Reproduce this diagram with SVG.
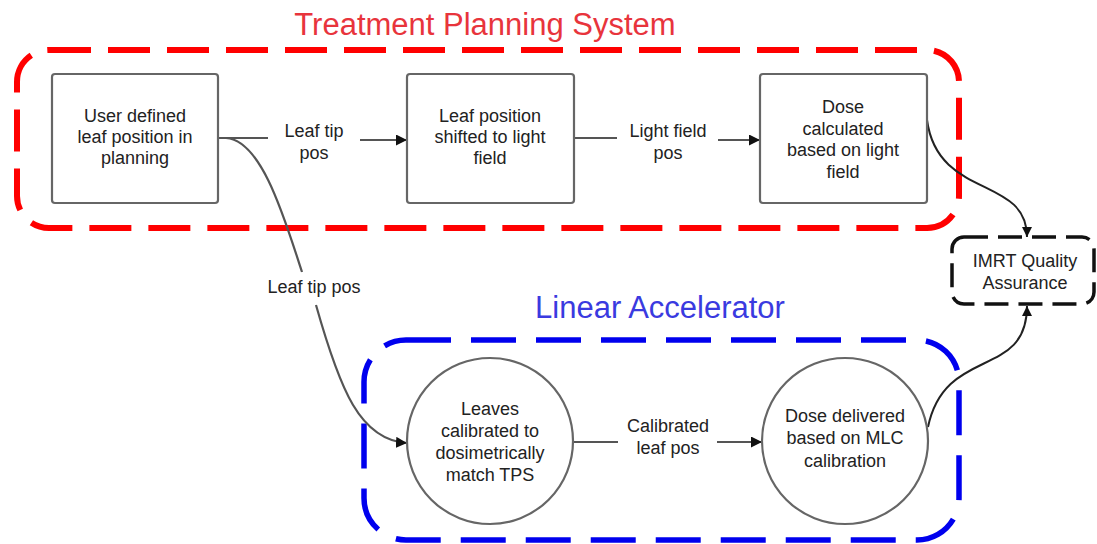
<svg xmlns="http://www.w3.org/2000/svg" width="1097" height="544" viewBox="0 0 1097 544">
<defs>
<marker id="arr" viewBox="0 0 10 10" refX="10" refY="5" markerWidth="5" markerHeight="5" orient="auto" markerUnits="strokeWidth">
<path d="M0,0 L10,5 L0,10 z" fill="#111"/>
</marker>
<style>
.t{font-family:"Liberation Sans",Arial,sans-serif;font-size:18px;fill:#222;text-anchor:middle}
.title{font-family:"Liberation Sans",Arial,sans-serif;font-size:31px;text-anchor:middle}
.box{fill:#fff;stroke:#666;stroke-width:2.2}
.conn{fill:none;stroke:#555;stroke-width:2.2}
.dark{fill:none;stroke:#222;stroke-width:2}
</style>
</defs>
<rect width="1097" height="544" fill="#fff"/>

<g id="tps-group">
<rect x="17" y="50" width="942" height="178" rx="32" fill="none" stroke="#ff0000" stroke-width="6" stroke-dasharray="42 17"/>
<text class="title" x="485" y="35" fill="#e8343c">Treatment Planning System</text>
</g>
<g id="linac-group">
<rect x="364" y="340" width="595" height="200" rx="42" fill="none" stroke="#0000ee" stroke-width="5.5" stroke-dasharray="45 20"/>
<text class="title" x="660" y="318" fill="#3a3ae0">Linear Accelerator</text>
</g>

<g id="connectors">
<path class="conn" d="M218,138 H268"/>
<path class="conn" d="M360,140 H407" marker-end="url(#arr)"/>
<path class="conn" d="M574,138 H617"/>
<path class="conn" d="M718,140 H760" marker-end="url(#arr)"/>
<path class="conn" d="M573,442 H618"/>
<path class="conn" d="M717,442 H762" marker-end="url(#arr)"/>
<path class="conn" d="M226,138 C262,140 285,220 302,272"/>
<path class="conn" d="M316,305 C340,390 360,440 407,443" marker-end="url(#arr)"/>
<path class="dark" d="M927,120 C938,200 1027,175 1027,237" marker-end="url(#arr)"/>
<path class="dark" d="M928,427 C945,345 1027,380 1027,306" marker-end="url(#arr)"/>
<text class="t" x="314" y="293">Leaf tip pos</text>
<text class="t" x="314" y="137">Leaf tip</text>
<text class="t" x="314" y="159">pos</text>
<text class="t" x="668" y="137">Light field</text>
<text class="t" x="668" y="159">pos</text>
<text class="t" x="668" y="432">Calibrated</text>
<text class="t" x="668" y="454">leaf pos</text>
</g>

<g id="node-user">
<rect class="box" x="52" y="74" width="166" height="129" rx="3"/>
<text class="t" x="135" y="122">User defined</text>
<text class="t" x="135" y="143">leaf position in</text>
<text class="t" x="135" y="164">planning</text>
</g>
<g id="node-shifted">
<rect class="box" x="407" y="74" width="167" height="129" rx="3"/>
<text class="t" x="490" y="122">Leaf position</text>
<text class="t" x="490" y="143">shifted to light</text>
<text class="t" x="490" y="164">field</text>
</g>
<g id="node-dose-calc">
<rect class="box" x="760" y="74" width="167" height="129" rx="3"/>
<text class="t" x="843" y="113">Dose</text>
<text class="t" x="843" y="135">calculated</text>
<text class="t" x="843" y="156">based on light</text>
<text class="t" x="843" y="178">field</text>
</g>
<g id="node-imrt">
<rect x="952" y="237" width="142" height="67" rx="12" fill="#fff" stroke="#111" stroke-width="3.5" stroke-dasharray="24 10"/>
<text class="t" x="1025" y="267">IMRT Quality</text>
<text class="t" x="1025" y="289">Assurance</text>
</g>
<g id="node-leaves">
<circle class="box" cx="490" cy="441" r="83"/>
<text class="t" x="490" y="415">Leaves</text>
<text class="t" x="490" y="437">calibrated to</text>
<text class="t" x="490" y="459">dosimetrically</text>
<text class="t" x="490" y="481">match TPS</text>
</g>
<g id="node-dose-delivered">
<circle class="box" cx="845" cy="441" r="83"/>
<text class="t" x="845" y="422">Dose delivered</text>
<text class="t" x="845" y="444">based on MLC</text>
<text class="t" x="845" y="467">calibration</text>
</g>
</svg>
